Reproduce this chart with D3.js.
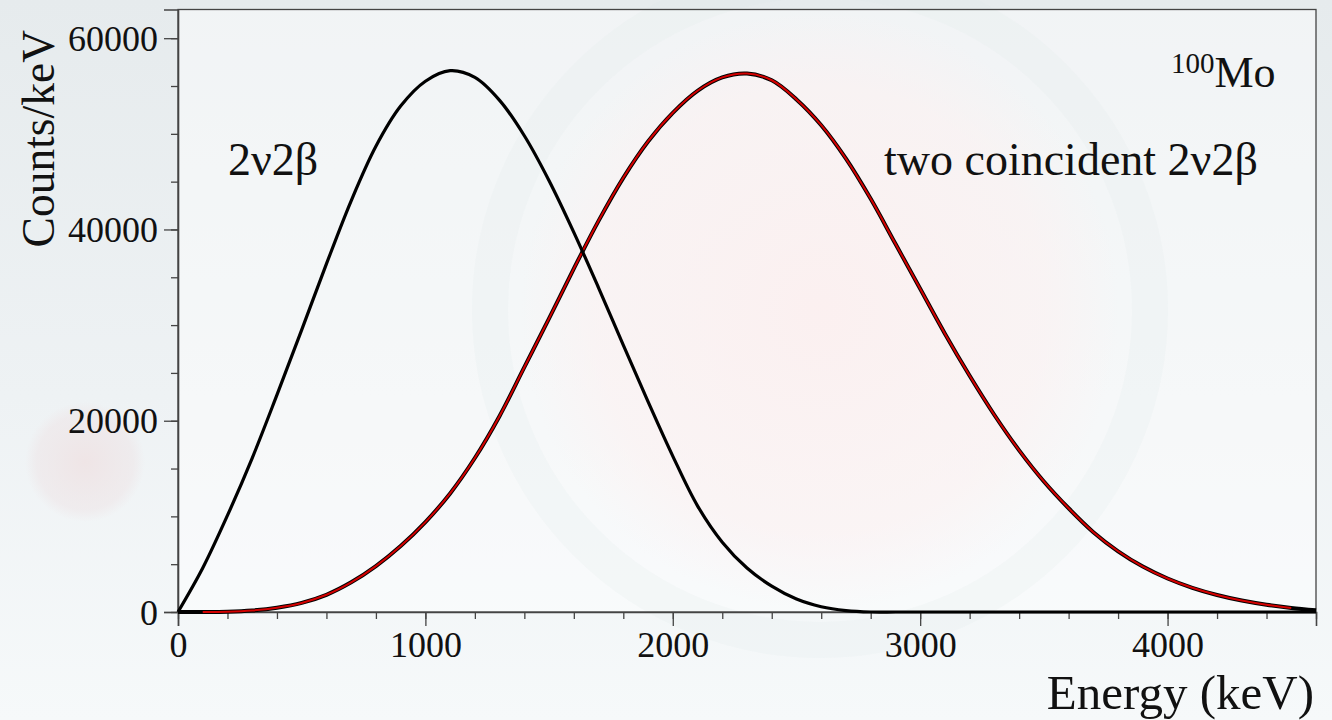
<!DOCTYPE html>
<html>
<head>
<meta charset="utf-8">
<script src="https://cdn.jsdelivr.net/npm/d3@7"></script>
<style>
  html, body { margin: 0; padding: 0; background: #f4f7f8; }
  svg { display: block; }
  text { font-family: "Liberation Serif", "Times New Roman", serif; fill: #111; }
</style>
</head>
<body>
<svg id="chart" width="1332" height="720"></svg>
<script>
// Energy bins (keV)
const energyKeV = [0,100,200,300,400,500,600,700,800,900,1000,1100,1200,1300,1400,1500,1600,1700,1800,1900,
  2000,2100,2200,2300,2400,2500,2600,2700,2800,2900,3000,3100,3200,3300,3400,3500,3600,3700,3800,3900,
  4000,4100,4200,4300,4400,4500,4600];

// Single 2v2b sum-energy spectrum (counts/keV)
const singleCounts = [0,4600,10100,16100,22700,29500,36400,43000,48700,52900,55500,56600,55900,53500,49800,45100,
  39700,33900,27900,22000,16300,11100,7300,4600,2700,1350,550,150,0,0,0,0,0,0,0,0,0,0,0,0,0,0,0,0,0,0,0];

// Two coincident 2v2b events (counts/keV)
const coincidentCounts = [0,0,30,160,450,950,1800,3100,4800,6900,9400,12400,16100,20500,25600,30700,35900,40900,
  45400,49200,52200,54500,55900,56300,55600,53600,50900,47400,43200,38500,33800,29100,24700,20600,16900,
  13650,10850,8350,6350,4750,3500,2530,1780,1200,760,430,180];

// Fit range drawn over the coincident spectrum (keV)
const fitRangeKeV = [100, 4500];

const xMajorTicks = [0, 1000, 2000, 3000, 4000];
const yMajorTicks = [0, 20000, 40000, 60000];
const xDomain = [0, 4600];
const yDomain = [0, 63000];

const svg = d3.select("#chart");
const W = 1332, H = 720;
const plotL = 178, plotR = 1316, plotT = 9.5, plotB = 612;

// ---- soft photographic backdrop ----
const defs = svg.append("defs");
const bgGrad = defs.append("linearGradient").attr("id", "bgGrad").attr("x1", 0).attr("y1", 0).attr("x2", 0).attr("y2", 1);
bgGrad.append("stop").attr("offset", "0%").attr("stop-color", "#e6ebed");
bgGrad.append("stop").attr("offset", "55%").attr("stop-color", "#eef2f4");
bgGrad.append("stop").attr("offset", "100%").attr("stop-color", "#f6f9fa");

const pinkGlow = defs.append("radialGradient").attr("id", "pinkGlow");
pinkGlow.append("stop").attr("offset", "0%").attr("stop-color", "#fcefef").attr("stop-opacity", 0.9);
pinkGlow.append("stop").attr("offset", "75%").attr("stop-color", "#fcf1f1").attr("stop-opacity", 0.6);
pinkGlow.append("stop").attr("offset", "100%").attr("stop-color", "#fcf1f1").attr("stop-opacity", 0);

const blob = defs.append("radialGradient").attr("id", "blob");
blob.append("stop").attr("offset", "0%").attr("stop-color", "#efe3e4").attr("stop-opacity", 0.9);
blob.append("stop").attr("offset", "80%").attr("stop-color", "#eee6e8").attr("stop-opacity", 0.6);
blob.append("stop").attr("offset", "100%").attr("stop-color", "#eee6e8").attr("stop-opacity", 0);

svg.append("rect").attr("width", W).attr("height", H).attr("fill", "url(#bgGrad)");
svg.append("rect").attr("x", plotL).attr("y", plotT).attr("width", plotR - plotL).attr("height", plotB - plotT)
  .attr("fill", "#ffffff").attr("opacity", 0.45);
svg.append("circle").attr("cx", 820).attr("cy", 310).attr("r", 330)
  .attr("fill", "none").attr("stroke", "#dfe8ea").attr("stroke-width", 36).attr("opacity", 0.18);
svg.append("circle").attr("cx", 820).attr("cy", 310).attr("r", 300).attr("fill", "url(#pinkGlow)");
svg.append("circle").attr("cx", 85).attr("cy", 462).attr("r", 60).attr("fill", "url(#blob)");

// ---- scales ----
const x = d3.scaleLinear().domain(xDomain).range([plotL, plotR]);
const y = d3.scaleLinear().domain(yDomain).range([plotB, plotT]);

// ---- frame ----
svg.append("rect").attr("x", plotL).attr("y", plotT).attr("width", plotR - plotL).attr("height", plotB - plotT)
  .attr("fill", "none").attr("stroke", "#444").attr("stroke-width", 1.3);

// ---- axes ----
const yMinor = d3.range(yDomain[0], 60001, 5000);
const xMinor = d3.range(xDomain[0], xDomain[1] + 1, 200);

const gy = svg.append("g").attr("transform", `translate(${plotL},0)`);
gy.call(d3.axisLeft(y).tickValues(yMinor).tickSize(7).tickFormat(""));
gy.call(g => g.selectAll(".domain").remove());
const gyMaj = svg.append("g").attr("transform", `translate(${plotL},0)`);
gyMaj.call(d3.axisLeft(y).tickValues(yMajorTicks).tickSize(14).tickPadding(6).tickFormat(d3.format("d")));

const gx = svg.append("g").attr("transform", `translate(0,${plotB})`);
gx.call(d3.axisBottom(x).tickValues(xMinor).tickSize(7).tickFormat(""));
gx.call(g => g.selectAll(".domain").remove());
const gxMaj = svg.append("g").attr("transform", `translate(0,${plotB})`);
gxMaj.call(d3.axisBottom(x).tickValues(xMajorTicks).tickSize(14).tickPadding(5).tickFormat(d3.format("d")));

svg.selectAll(".tick line").attr("stroke", "#444").attr("stroke-width", 1.3);
svg.selectAll(".domain").attr("stroke", "#444").attr("stroke-width", 1.6);
svg.selectAll(".tick text").attr("font-family", "Liberation Serif").attr("font-size", 36).attr("fill", "#111");
gyMaj.selectAll(".tick text").attr("dy", "0.34em");

// ---- curves ----
const line = d3.line()
  .x(d => x(d[0]))
  .y(d => y(d[1]))
  .curve(d3.curveCatmullRom.alpha(0.5));

const singlePts = energyKeV.map((e, i) => [e, singleCounts[i]]);
const coincPts = energyKeV.map((e, i) => [e, coincidentCounts[i]]);
const fitPts = coincPts.filter(d => d[0] >= fitRangeKeV[0] && d[0] <= fitRangeKeV[1]);

svg.append("path").datum(coincPts).attr("d", line)
  .attr("fill", "none").attr("stroke", "#000").attr("stroke-width", 4).attr("stroke-linejoin", "round");
svg.append("path").datum(fitPts).attr("d", line)
  .attr("fill", "none").attr("stroke", "#d40000").attr("stroke-width", 2).attr("stroke-linejoin", "round");
svg.append("path").datum(singlePts).attr("d", line)
  .attr("fill", "none").attr("stroke", "#000").attr("stroke-width", 3.2).attr("stroke-linejoin", "round");

// ---- titles and labels ----
svg.append("text").attr("x", plotR - 2).attr("y", 709).attr("text-anchor", "end")
  .attr("font-size", 49).text("Energy (keV)");

svg.append("text").attr("transform", "translate(54,30) rotate(-90)").attr("text-anchor", "end")
  .attr("font-size", 45.5).text("Counts/keV");

svg.append("text").attr("x", 228).attr("y", 175).attr("font-size", 46).text("2ν2β");
svg.append("text").attr("x", 884).attr("y", 175).attr("font-size", 46).text("two coincident 2ν2β");

const iso = svg.append("text").attr("x", 1171).attr("y", 87).attr("font-size", 44);
iso.append("tspan").attr("font-size", 29).attr("dy", -14).text("100");
iso.append("tspan").attr("dy", 14).text("Mo");
</script>
</body>
</html>
